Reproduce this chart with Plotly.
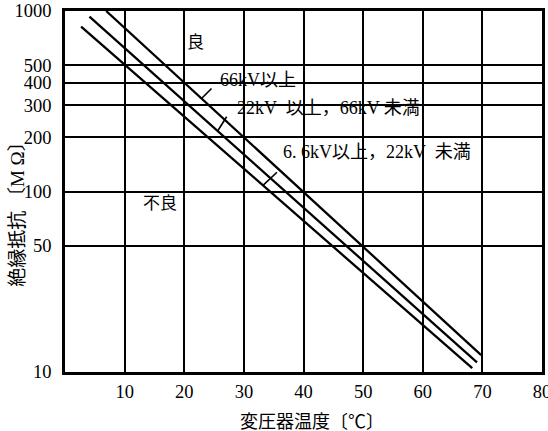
import plotly.graph_objects as go
import numpy as np

# Data (temperature in °C, insulation resistance in MΩ)
line_66kv_x = [6.9, 69.8]
line_66kv_y = [1000, 12.4]
line_22kv_x = [4.1, 69.1]
line_22kv_y = [930, 11.3]
line_6kv_x = [2.7, 68.3]
line_6kv_y = [820, 10.5]

x_ticks = [10, 20, 30, 40, 50, 60, 70, 80]
y_ticks = [10, 50, 100, 200, 300, 400, 500, 1000]

FONT = "Liberation Serif, Noto Sans CJK JP, serif"

def interp_log(xs, ys, x):
    return 10 ** np.interp(x, xs, np.log10(ys))

fig = go.Figure()
for xs, ys in [(line_66kv_x, line_66kv_y), (line_22kv_x, line_22kv_y), (line_6kv_x, line_6kv_y)]:
    fig.add_trace(go.Scatter(x=xs, y=ys, mode="lines",
                             line=dict(color="black", width=2.3), showlegend=False,
                             hoverinfo="skip"))

annos = []
# labels
annos.append(dict(x=21.9, y=np.log10(665), text="良", showarrow=False,
                  font=dict(size=17, color="black", family=FONT)))
annos.append(dict(x=15.9, y=np.log10(86), text="不良", showarrow=False,
                  font=dict(size=17, color="black", family=FONT)))
annos.append(dict(x=25.6, y=np.log10(415), text="66kV以上", showarrow=False,
                  xanchor="left", font=dict(size=18, color="black", family=FONT)))
annos.append(dict(x=28.5, y=np.log10(290), text="22kV  以上，66kV 未満", showarrow=False,
                  xanchor="left", font=dict(size=18, color="black", family=FONT)))
annos.append(dict(x=36.3, y=np.log10(166), text="6. 6kV以上，22kV  未満", showarrow=False,
                  xanchor="left", font=dict(size=18, color="black", family=FONT)))
# leader ticks
for hx, xs, ys, ax, ay in [(22.9, line_66kv_x, line_66kv_y, 13, -13),
                            (25.6, line_22kv_x, line_22kv_y, 12, -19),
                            (33.2, line_6kv_x, line_6kv_y, 17, -16)]:
    hy = interp_log(xs, ys, hx)
    annos.append(dict(x=hx, y=np.log10(hy), text=" ", showarrow=True, arrowhead=0,
                      arrowwidth=1.6, arrowcolor="black", ax=ax, ay=ay, standoff=0))

# axis titles
annos.append(dict(xref="paper", yref="paper", x=-0.1, y=0.45, text="絶縁抵抗 〔M Ω〕",
                  textangle=-90, showarrow=False, xanchor="center", yanchor="middle",
                  font=dict(size=19, color="black", family=FONT)))
annos.append(dict(xref="paper", yref="paper", x=0.517, y=-0.1385, text="変圧器温度〔℃〕",
                  showarrow=False, xanchor="center", yanchor="middle",
                  font=dict(size=18, color="black", family=FONT)))

fig.update_layout(
    width=548, height=431,
    margin=dict(l=65, r=6, t=11, b=59),
    paper_bgcolor="white", plot_bgcolor="white",
    annotations=annos,
    xaxis=dict(range=[0, 80], tickvals=x_ticks, ticktext=[str(v) for v in x_ticks],
               showgrid=True, gridcolor="black", gridwidth=1.6,
               showline=True, linecolor="black", linewidth=2.5, mirror=True,
               ticks="", zeroline=False, ticklabelstandoff=1, automargin=False,
               ticklabeloverflow="allow",
               tickfont=dict(size=18.5, color="black", family=FONT)),
    yaxis=dict(type="log", range=[1, 3], tickvals=y_ticks, ticktext=[str(v) for v in y_ticks],
               showgrid=True, gridcolor="black", gridwidth=1.6,
               showline=True, linecolor="black", linewidth=2.5, mirror=True,
               ticks="", zeroline=False, ticklabelstandoff=7, automargin=False,
               ticklabeloverflow="allow",
               tickfont=dict(size=18.5, color="black", family=FONT)),
)

fig.write_html("out.html", config={"displayModeBar": False},
               post_script="document.body.style.margin='0';document.body.style.overflow='hidden';")
